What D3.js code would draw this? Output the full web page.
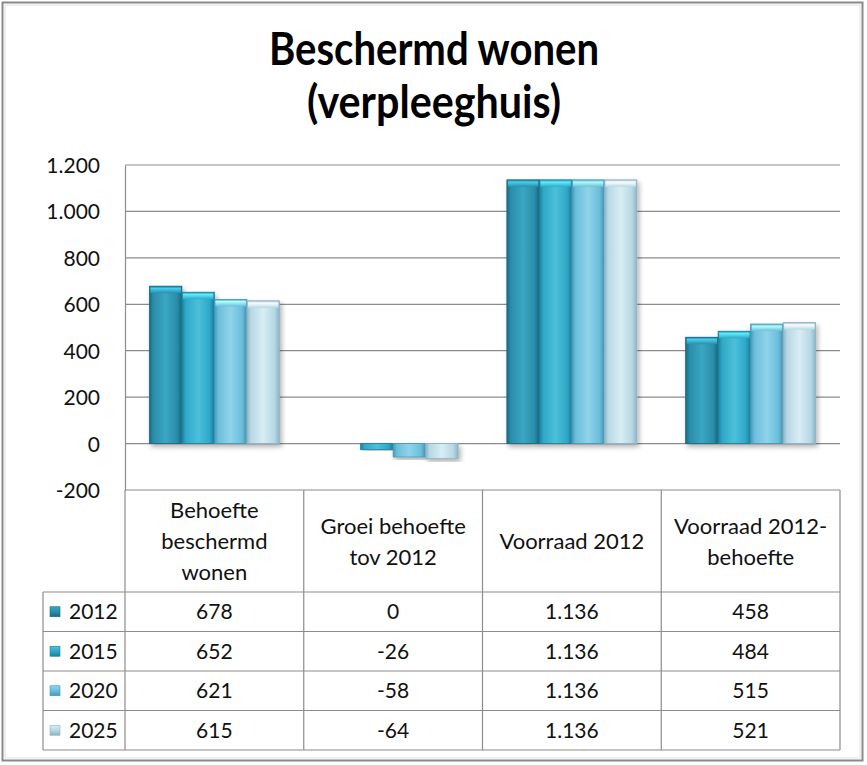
<!DOCTYPE html>
<html><head><meta charset="utf-8">
<script src="https://cdn.jsdelivr.net/npm/d3@7"></script>
<style>
html,body{margin:0;padding:0;background:#fff;}
svg{display:block;font-family:Lato,"Open Sans",sans-serif;}
</style></head>
<body>
<svg id="chart" width="867" height="765"></svg>
<script>
// ---- data ----
const categories = ["Behoefte beschermd wonen", "Groei behoefte tov 2012", "Voorraad 2012", "Voorraad 2012-behoefte"];
const headerLines = [["Behoefte", "beschermd", "wonen"], ["Groei behoefte", "tov 2012"], ["Voorraad 2012"], ["Voorraad 2012-", "behoefte"]];
const years = ["2012", "2015", "2020", "2025"];
const values2012 = [678, 0, 1136, 458];
const values2015 = [652, -26, 1136, 484];
const values2020 = [621, -58, 1136, 515];
const values2025 = [615, -64, 1136, 521];
const yTicks = [-200, 0, 200, 400, 600, 800, 1000, 1200];
const titleLines = ["Beschermd wonen", "(verpleeghuis)"];

const series = [values2012, values2015, values2020, values2025];
const palette = [
  {base:"#2a8daa", dark:"#186a84", light:"#3aa7c2"},
  {base:"#2ea8c7", dark:"#1d809d", light:"#4cc0da"},
  {base:"#6bbedb", dark:"#4698b8", light:"#8fd3ea"},
  {base:"#b6d8e5", dark:"#8db3c4", light:"#d8edf4"}
];

const loc = d3.formatLocale({decimal: ",", thousands: ".", grouping: [3], currency: ["€", ""], minus: "-"});
const fmt = loc.format(",d");

const svg = d3.select("#chart");
const defs = svg.append("defs");

// frame
svg.append("rect").attr("x", 2.5).attr("y", 2.5).attr("width", 860).attr("height", 758)
  .attr("fill", "#fff").attr("stroke", "#8a8a8a").attr("stroke-width", 2);
svg.append("rect").attr("x", 5).attr("y", 5).attr("width", 855).attr("height", 753)
  .attr("fill", "none").attr("stroke", "#e2e2e2").attr("stroke-width", 1);

// gradients
palette.forEach((p, i) => {
  const g = defs.append("linearGradient").attr("id", "bar" + i).attr("x1", 0).attr("x2", 1).attr("y1", 0).attr("y2", 0);
  [[0, p.dark], [0.12, p.base], [0.5, p.light], [0.85, p.base], [1, p.dark]].forEach(([o, c]) =>
    g.append("stop").attr("offset", o).attr("stop-color", c));
  const t = defs.append("linearGradient").attr("id", "cap" + i).attr("x1", 0).attr("x2", 0).attr("y1", 0).attr("y2", 1);
  [[0, p.dark], [0.3, d3.color(p.light).brighter(0.6)], [1, p.base]].forEach(([o, c]) =>
    t.append("stop").attr("offset", o).attr("stop-color", c));
  const l = defs.append("linearGradient").attr("id", "leg" + i).attr("x1", 0).attr("x2", 0).attr("y1", 0).attr("y2", 1);
  [[0, p.light], [0.5, p.base], [1, p.dark]].forEach(([o, c]) =>
    l.append("stop").attr("offset", o).attr("stop-color", c));
});
const f = defs.append("filter").attr("id", "shadow").attr("x", "-20%").attr("y", "-20%").attr("width", "140%").attr("height", "140%");
f.append("feDropShadow").attr("dx", 2).attr("dy", 3).attr("stdDeviation", 2.5).attr("flood-color", "#000").attr("flood-opacity", 0.3);

// title
svg.selectAll("text.title").data(titleLines).join("text")
  .attr("class", "title")
  .attr("x", 434).attr("y", (d, i) => 65 + i * 53)
  .attr("text-anchor", "middle")
  .attr("font-size", 45).attr("font-weight", 700).attr("fill", "#000")
  .attr("textLength", (d, i) => i === 0 ? 330 : 254)
  .attr("lengthAdjust", "spacingAndGlyphs")
  .text(d => d);

// scales
const plotLeft = 125, plotRight = 840, plotTop = 165, plotBottom = 490;
const x = d3.scaleBand().domain(categories).range([plotLeft, plotRight]).padding(0);
const xs = d3.scaleBand().domain(years).range([0, x.bandwidth()]).paddingInner(0).paddingOuter(0.75);
const y = d3.scaleLinear().domain([-200, 1200]).range([plotBottom, plotTop]);

// gridlines
svg.append("g").selectAll("line").data(yTicks).join("line")
  .attr("x1", plotLeft).attr("x2", plotRight)
  .attr("y1", d => y(d)).attr("y2", d => y(d))
  .attr("stroke", "#8c8c8c").attr("stroke-width", 1.2);

// y axis
const yAxis = d3.axisLeft(y).tickValues(yTicks).tickFormat(fmt).tickSize(0).tickPadding(25);
const ya = svg.append("g").attr("transform", `translate(${plotLeft},0)`).call(yAxis);
ya.select(".domain").attr("stroke", "#8c8c8c").attr("stroke-width", 1.2);
ya.selectAll("text").attr("font-size", 21).attr("fill", "#111").attr("font-family", "Lato, sans-serif").attr("dy", "0.36em");

// bars
const barData = [];
categories.forEach((c, ci) => years.forEach((yr, si) => barData.push({c, yr, si, v: series[si][ci]})));
const bars = svg.append("g").selectAll("g").data(barData.filter(d => d.v !== 0)).join("g")
  .attr("filter", "url(#shadow)");
bars.append("rect")
  .attr("x", d => x(d.c) + xs(d.yr))
  .attr("width", xs.bandwidth())
  .attr("y", d => Math.min(y(d.v), y(0)))
  .attr("height", d => Math.abs(y(d.v) - y(0)))
  .attr("fill", d => `url(#bar${d.si})`)
  .attr("stroke", d => palette[d.si].dark).attr("stroke-width", 0.8);
bars.filter(d => d.v > 0).append("rect")
  .attr("x", d => x(d.c) + xs(d.yr) + 1)
  .attr("width", xs.bandwidth() - 2)
  .attr("y", d => y(d.v))
  .attr("height", 7)
  .attr("fill", d => `url(#cap${d.si})`);

// data table
const tableLeft = 43, headerTop = plotBottom, headerBottom = 592, tableBottom = 750;
const rowY = d3.scaleBand().domain(years).range([headerBottom, tableBottom]);
const tg = svg.append("g").attr("stroke", "#8c8c8c").attr("stroke-width", 1.2);
tg.append("line").attr("x1", tableLeft).attr("x2", plotRight).attr("y1", headerBottom).attr("y2", headerBottom);
years.forEach(yr => tg.append("line").attr("x1", tableLeft).attr("x2", plotRight)
  .attr("y1", rowY(yr) + rowY.bandwidth()).attr("y2", rowY(yr) + rowY.bandwidth()));
tg.append("line").attr("x1", tableLeft).attr("x2", tableLeft).attr("y1", headerBottom).attr("y2", tableBottom);
tg.append("line").attr("x1", plotLeft).attr("x2", plotLeft).attr("y1", headerTop).attr("y2", tableBottom);
categories.forEach(c => tg.append("line").attr("x1", x(c) + x.bandwidth()).attr("x2", x(c) + x.bandwidth())
  .attr("y1", headerTop).attr("y2", tableBottom));

// header text
categories.forEach((c, ci) => {
  const lines = headerLines[ci];
  const cy = (headerTop + headerBottom) / 2;
  const lh = 31;
  const t = svg.append("text").attr("text-anchor", "middle").attr("font-size", 22).attr("fill", "#111");
  lines.forEach((ln, li) => t.append("tspan").attr("x", x(c) + x.bandwidth() / 2)
    .attr("y", cy + (li - (lines.length - 1) / 2) * lh + 8).text(ln));
});

// rows
years.forEach((yr, si) => {
  const cy = rowY(yr) + rowY.bandwidth() / 2;
  svg.append("rect").attr("x", 50).attr("y", cy - 5).attr("width", 10).attr("height", 10)
    .attr("fill", `url(#leg${si})`).attr("stroke", palette[si].dark).attr("stroke-width", 0.6);
  svg.append("text").attr("x", 69).attr("y", cy + 7.5).attr("font-size", 21).attr("fill", "#111").text(yr);
  categories.forEach((c, ci) => {
    svg.append("text").attr("x", x(c) + x.bandwidth() / 2).attr("y", cy + 7.5)
      .attr("text-anchor", "middle").attr("font-size", 21).attr("fill", "#111")
      .text(fmt(series[si][ci]));
  });
});
</script>
</body></html>
